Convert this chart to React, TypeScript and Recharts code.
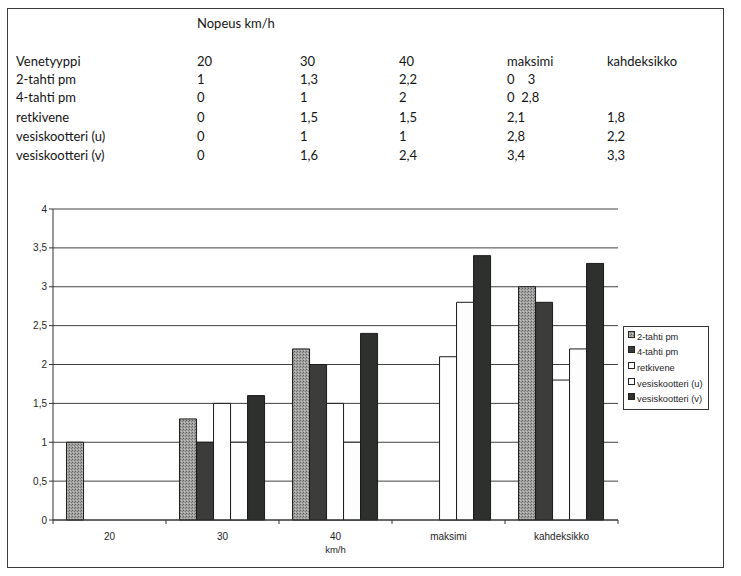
import { BarChart, Bar, XAxis, YAxis, CartesianGrid, Legend } from 'recharts';

// nopeus (km/h) luokat
const categories = ['20', '30', '40', 'maksimi', 'kahdeksikko'];
const kaksitahti = [1, 1.3, 2.2, 0, 3];
const nelitahti = [0, 1, 2, 0, 2.8];
const retkivene = [0, 1.5, 1.5, 2.1, 1.8];
const vesiskootteriU = [0, 1, 1, 2.8, 2.2];
const vesiskootteriV = [0, 1.6, 2.4, 3.4, 3.3];
const yTicks = [0, 0.5, 1, 1.5, 2, 2.5, 3, 3.5, 4];

// taulukko kuten painettuna
const tableTitle = 'Nopeus km/h';
const tableHeader = ['Venetyyppi', '20', '30', '40', 'maksimi', 'kahdeksikko'];
const tableRows = [
  ['2-tahti pm', '1', '1,3', '2,2', '0    3', ''],
  ['4-tahti pm', '0', '1', '2', '0  2,8', ''],
  ['retkivene', '0', '1,5', '1,5', '2,1', '1,8'],
  ['vesiskootteri (u)', '0', '1', '1', '2,8', '2,2'],
  ['vesiskootteri (v)', '0', '1,6', '2,4', '3,4', '3,3'],
];
const colX = [16, 197, 300, 399, 507, 607];
const rowY = [61, 78.5, 97, 116.5, 136, 154.5];

const series = [
  { key: 'kaksitahti', name: '2-tahti pm', fill: 'url(#stipple)' },
  { key: 'nelitahti', name: '4-tahti pm', fill: '#3c3d3a' },
  { key: 'retkivene', name: 'retkivene', fill: '#ffffff' },
  { key: 'vesiU', name: 'vesiskootteri (u)', fill: '#fdfdfd' },
  { key: 'vesiV', name: 'vesiskootteri (v)', fill: '#2e302d' },
];

const data = categories.map((cat, i) => ({
  cat,
  kaksitahti: kaksitahti[i],
  nelitahti: nelitahti[i],
  retkivene: retkivene[i],
  vesiU: vesiskootteriU[i],
  vesiV: vesiskootteriV[i],
}));

const chartFont = '"Liberation Sans", Arial, sans-serif';
const tableFont = 'Lato, "Open Sans", sans-serif';
const TICK_SIZE = 4;
const TICK_MARGIN = 5;

const CategoryTick = (props: any) => {
  const { x, y, payload, index } = props;
  const half = payload && payload.offset ? payload.offset : 56.5;
  const axisY = y - TICK_SIZE - TICK_MARGIN;
  return (
    <g>
      {index === 0 && (
        <line x1={x - half} x2={x - half} y1={axisY} y2={axisY + TICK_SIZE} stroke="#333" />
      )}
      <line x1={x + half} x2={x + half} y1={axisY} y2={axisY + TICK_SIZE} stroke="#333" />
      <text x={x} y={axisY + 20} textAnchor="middle" fontSize={10} fontFamily={chartFont} fill="#1e1e1e">
        {payload.value}
      </text>
    </g>
  );
};

const LegendBox = (props: any) => {
  const items = props.payload || [];
  return (
    <div
      style={{
        border: '1px solid #333',
        background: '#fff',
        width: 80,
        padding: '2px 0 2px 4px',
        fontFamily: chartFont,
        fontSize: 9.3,
        color: '#1e1e1e',
      }}
    >
      {items.map((it: any) => (
        <div key={it.value} style={{ display: 'flex', alignItems: 'center', height: 15.6 }}>
          <svg width={8} height={8} style={{ marginTop: -4, marginRight: 1 }}>
            <rect x={0.5} y={0.5} width={6} height={6} fill={it.color} stroke="#222" />
          </svg>
          <span>{it.value}</span>
        </div>
      ))}
    </div>
  );
};

export default function App() {
  return (
    <div style={{ position: 'absolute', left: 0, top: 0, width: 741, height: 576, background: '#fff' }}>
      <div
        style={{
          position: 'absolute',
          left: 7,
          top: 8,
          width: 715,
          height: 558,
          border: '1px solid #3a3a3a',
        }}
      />
      <div
        style={{
          position: 'absolute',
          left: colX[1],
          top: 23 - 8,
          lineHeight: '16px',
          fontFamily: tableFont,
          fontSize: 13,
          color: '#141414',
        }}
      >
        {tableTitle}
      </div>
      {[tableHeader, ...tableRows].map((row, r) =>
        row.map((cell, c) => (
          <div
            key={r + '-' + c}
            style={{
              position: 'absolute',
              left: colX[c],
              top: rowY[r] - 8,
              lineHeight: '16px',
              whiteSpace: 'pre',
              fontFamily: tableFont,
              fontSize: 13,
              color: '#141414',
            }}
          >
            {cell}
          </div>
        ))
      )}
      <BarChart
        width={741}
        height={576}
        data={data}
        margin={{ top: 209, right: 123, bottom: 20, left: 13 }}
        barCategoryGap="12%"
        barGap={0}
        style={{ position: 'absolute', left: 0, top: 0 }}
      >
        <defs>
          <pattern id="stipple" width="3" height="3" patternUnits="userSpaceOnUse">
            <rect width="3" height="3" fill="#a3a4a1" />
            <rect x="0" y="0" width="1" height="1" fill="#5f605d" />
            <rect x="2" y="1" width="1" height="1" fill="#7a7b78" />
            <rect x="1" y="2" width="1" height="1" fill="#c4c4c2" />
          </pattern>
        </defs>
        <CartesianGrid vertical={false} stroke="#404040" />
        <XAxis
          dataKey="cat"
          height={36}
          tickSize={TICK_SIZE}
          tickMargin={TICK_MARGIN}
          tickLine={false}
          axisLine={{ stroke: '#333' }}
          tick={<CategoryTick />}
          interval={0}
          label={{
            value: 'km/h',
            position: 'insideBottom',
            offset: 3,
            fontSize: 9.5,
            fontFamily: chartFont,
            fill: '#1e1e1e',
          }}
        />
        <YAxis
          width={40}
          domain={[0, 4]}
          ticks={yTicks}
          interval={0}
          tickSize={4}
          tickMargin={2}
          tickLine={{ stroke: '#333' }}
          axisLine={{ stroke: '#333' }}
          tick={{ fontSize: 10, fontFamily: chartFont, fill: '#1e1e1e' }}
          tickFormatter={(v: number) => String(v).replace('.', ',')}
        />
        <YAxis
          yAxisId="r"
          orientation="right"
          width={0}
          domain={[0, 4]}
          tick={false}
          tickLine={false}
          axisLine={{ stroke: '#333' }}
        />
        <Legend
          content={<LegendBox />}
          layout="horizontal"
          verticalAlign="middle"
          wrapperStyle={{ left: 623, top: 326, width: 'auto' }}
        />
        {series.map((s) => (
          <Bar
            key={s.key}
            dataKey={s.key}
            name={s.name}
            fill={s.fill}
            stroke="#1a1a1a"
            strokeWidth={1}
            isAnimationActive={false}
          />
        ))}
      </BarChart>
    </div>
  );
}
